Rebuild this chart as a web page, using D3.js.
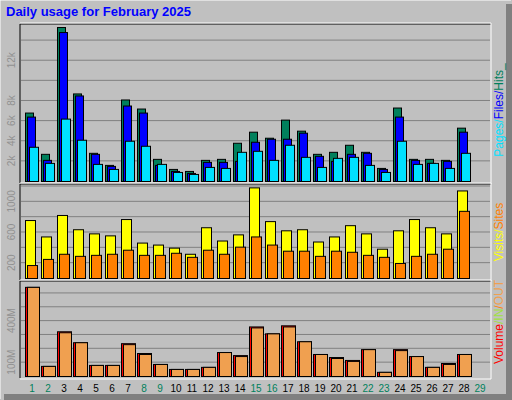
<!DOCTYPE html>
<html><head><meta charset="utf-8">
<script src="https://cdn.jsdelivr.net/npm/d3@7"></script>
<style>body{margin:0;background:#fff}text{font-family:"Liberation Sans",Arial,sans-serif}</style>
</head><body><svg width="512" height="400"></svg>
<script>
var days = d3.range(1, 30);
var weekend = [1, 2, 8, 9, 15, 16, 22, 23, 29];
var hits  = [6.8,2.7,15.3,8.7,2.8,1.6,8.1,7.2,2.2,1.2,1.0,2.1,2.2,3.8,4.9,4.3,6.1,5.0,2.7,2.9,3.6,2.9,1.3,7.3,2.2,2.2,2.1,5.3].map(v => v*1000);
var files = [6.4,2.1,14.8,8.5,2.7,1.5,7.5,6.8,1.6,1.0,0.8,1.9,1.9,2.0,3.9,4.2,4.2,4.8,2.5,2.0,2.7,2.8,1.2,6.4,2.1,1.8,2.0,4.9].map(v => v*1000);
var pages = [3.4,1.8,6.2,4.1,1.7,1.2,4.0,3.5,1.7,0.9,0.7,1.4,1.3,2.9,3.0,2.1,3.6,2.4,1.4,2.3,2.4,1.6,0.9,4.0,1.7,1.8,1.3,2.8].map(v => v*1000);
var visits = [756,542,822,636,582,556,769,462,436,396,316,662,489,569,1182,742,622,636,476,542,689,582,382,622,769,662,582,1142];
var sites  = [169,249,316,289,302,316,369,302,302,329,276,369,316,409,542,436,356,356,289,356,342,302,276,196,289,316,382,876];
var volume = [644,73,323,244,80,80,237,166,87,51,51,66,173,151,358,308,366,251,159,137,116,194,30,194,144,66,94,159];
var volOut = [644,73,316,244,80,80,230,159,87,51,51,66,173,144,351,308,358,251,159,130,109,194,30,187,144,66,87,159];

var svg = d3.select("svg");
svg.append("rect").attr("width", 512).attr("height", 400).attr("fill", "#c0c0c0");
svg.append("path").attr("d", "M0,399V0H511").attr("stroke", "#fff").attr("fill", "none");
svg.append("rect").attr("x", 506).attr("y", 4).attr("width", 6).attr("height", 396).attr("fill", "#808080");
svg.append("rect").attr("x", 4).attr("y", 394).attr("width", 508).attr("height", 6).attr("fill", "#808080");
svg.append("text").attr("x", 6).attr("y", 16).attr("fill", "#0000ff")
  .attr("font-size", 13).attr("font-weight", "bold").text("Daily usage for February 2025");

var x = d3.scaleLinear().domain([1, 29]).range([25, 473]);

function panel(top, bottom, max, ticks) {
  var y = d3.scaleLinear().domain([0, max]).range([bottom - 2, top]);
  svg.append("rect").attr("x", 20).attr("y", top - 1).attr("width", 471).attr("height", bottom - top + 1).attr("fill", "#c0c0c0");
  var g = svg.append("g");
  g.selectAll("line").data(ticks.grid).enter().append("line")
    .attr("x1", 21).attr("x2", 490).attr("y1", d => y(d)).attr("y2", d => y(d))
    .attr("stroke", "#808080");
  g.selectAll("text").data(ticks.labels).enter().append("text")
    .attr("transform", d => "translate(15," + y(d[0]) + ") rotate(-90)")
    .attr("text-anchor", "middle").attr("fill", "#909090").attr("font-size", 10).text(d => d[1]);
  svg.append("path").attr("d", "M20," + bottom + "V" + (top - 1) + "H491").attr("stroke", "#000").attr("fill", "none");
  svg.append("path").attr("d", "M20," + (top - 2) + "H491V" + (bottom + 1) + "H20").attr("stroke", "#fff").attr("fill", "none");
  return y;
}

function bars(y, data, dx, w, color) {
  svg.append("g").selectAll("rect").data(data).enter().append("rect")
    .attr("x", (d, i) => x(i + 1) + dx + 0.5).attr("width", w)
    .attr("y", d => y(d) + 0.5).attr("height", d => Math.max(0, y(0) - y(d)))
    .attr("fill", color).attr("stroke", "#000");
}

var y1 = panel(25, 183, 15500, {grid: [2000,4000,6000,8000,10000,12000,14000],
  labels: [[2000,"2k"],[4000,"4k"],[6000,"6k"],[8000,"8k"],[12000,"12k"]]});
bars(y1, hits, 0, 8, "#00805c");
bars(y1, files, 2, 8, "#0000ff");
bars(y1, pages, 4, 9, "#00e0ff");

var y2 = panel(185, 280, 1213, {grid: [200,400,600,800,1000,1200],
  labels: [[200,"200"],[600,"600"],[1000,"1000"]]});
bars(y2, visits, 0, 10, "#ffff00");
bars(y2, sites, 2, 10, "#ff8000");

var y3 = panel(282, 378, 679, {grid: [100,200,300,400,500,600],
  labels: [[100,"100M"],[400,"400M"]]});
bars(y3, volume, 0, 14, "#ff0000");
bars(y3, volOut, 2, 12, "#f0a050");

svg.append("g").selectAll("text").data(days).enter().append("text")
  .attr("x", d => x(d) + 7).attr("y", 392).attr("text-anchor", "middle").attr("font-size", 10)
  .attr("fill", d => weekend.includes(d) ? "#00805c" : "#000").text(d => d);

function sideLabel(yc, parts) {
  var t = svg.append("text").attr("transform", "translate(503," + yc + ") rotate(-90)")
    .attr("text-anchor", "middle").attr("font-size", 12);
  parts.forEach(p => t.append("tspan").attr("fill", p[1]).text(p[0]));
}
sideLabel(110, [["Pages", "#00e0ff"], ["/", "#00e0ff"], ["Files", "#0000ff"], ["/", "#0000ff"], ["Hits_", "#00805c"]]);
sideLabel(232, [["Visits", "#ffff00"], ["/", "#ffff00"], ["Sites", "#ff8000"]]);
sideLabel(322, [["Volume", "#ff0000"], ["/", "#a0e040"], ["IN", "#a0e040"], ["/", "#ff8000"], ["OUT", "#f0a050"]]);
</script></body></html>
